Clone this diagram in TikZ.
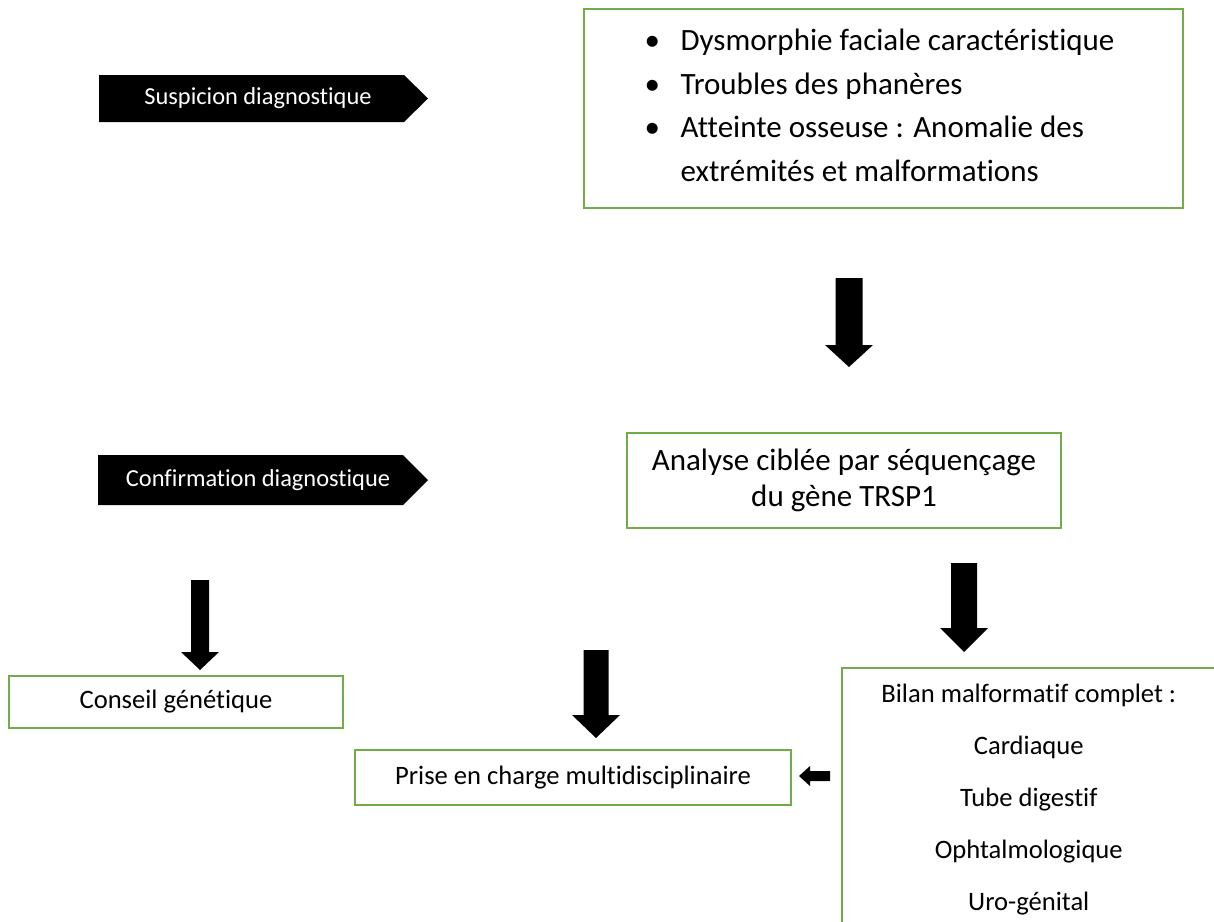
\documentclass[tikz,border=0pt]{standalone}
\usepackage{fontspec}
\setmainfont[Ligatures=NoCommon]{Carlito}
\usetikzlibrary{positioning}

\definecolor{boxgreen}{HTML}{70AD47}

\tikzset{
  greenbox/.style={draw=boxgreen, line width=0.75pt, inner sep=0pt},
  bigtext/.style={font=\fontsize{15.5}{21.75}\selectfont},
  midtext/.style={font=\fontsize{13.3}{16}\selectfont},
  tagtext/.style={text=white, inner sep=0pt, font=\fontsize{12.2}{14}\selectfont},
  % shaft half width / head half width / head start / length
  pics/blockarrow/.style args={#1/#2/#3/#4}{code={
    \fill (-#1,0) -- (#1,0) -- (#1,#3) -- (#2,#3) -- (0,#4) -- (-#2,#3) -- (-#1,#3) -- cycle;
  }}
}

\begin{document}
\begin{tikzpicture}[x=0.5pt, y=-0.5pt]
    \clip (0,0) rectangle (1214,921);

    % step tags
    \fill (99,75) -- (404,75) -- (428,98.5) -- (404,122) -- (99,122) -- cycle;
    \node[tagtext] (suspicion) at (258,98.5) {Suspicion diagnostique};
    \fill (98,455) -- (403,455) -- (428,480) -- (403,505) -- (98,505) -- cycle;
    \node[tagtext] (confirmation) at (258,480) {Confirmation diagnostique};

    % boxes
    \node[greenbox, minimum width=299.5pt, minimum height=99.5pt] (signes) at (883.5,108.5) {};
    \node[bigtext, align=left, inner sep=0pt] (signesliste) at (879.5,105.5)
        {\makebox[18pt][l]{\textbullet}Dysmorphie faciale caractéristique\\
         \makebox[18pt][l]{\textbullet}Troubles des phanères\\
         \makebox[18pt][l]{\textbullet}Atteinte osseuse : Anomalie des\\
         \hspace*{18pt}extrémités et malformations};
    \node[greenbox, bigtext, align=center, font=\fontsize{15.5}{18}\selectfont,
          minimum width=217pt, minimum height=47.5pt] (analyse) at (844,480.5)
        {Analyse ciblée par séquençage\\du gène TRSP1};
    \node[greenbox, midtext, minimum width=167pt, minimum height=26pt] (conseil) at (176,702) {Conseil génétique};
    \node[greenbox, midtext, minimum width=218pt, minimum height=27.5pt] (prise) at (573,777.5) {Prise en charge multidisciplinaire};
    \node[greenbox, anchor=north west, minimum width=187pt, minimum height=150pt] (bilan) at (841,667) {};
    \node[midtext, font=\fontsize{13.3}{26}\selectfont, align=center, inner sep=0pt, anchor=north]
        (bilanliste) at ([yshift=-8.5pt]bilan.north)
        {Bilan malformatif complet :\\Cardiaque\\Tube digestif\\Ophtalmologique\\Uro-génital};

    % block arrows
    \pic at (849,278) {blockarrow=13.5/24/67/89};
    \pic at (964,563) {blockarrow=13/24/65/89};
    \pic at (596,650) {blockarrow=12.5/24/65/88};
    \pic at (200,580) {blockarrow=9/19/72/90};
    \pic[rotate=-90] at (830,776) {blockarrow=5/10/20/31};
\end{tikzpicture}
\end{document}
